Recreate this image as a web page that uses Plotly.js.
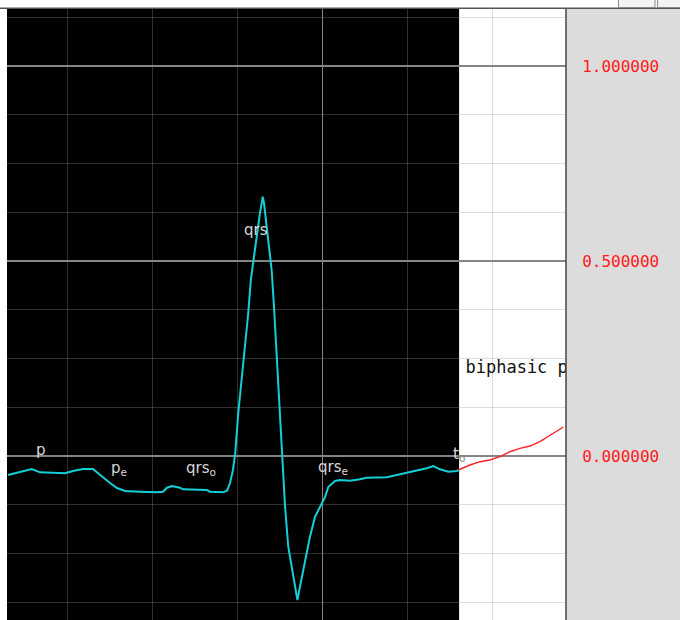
<!DOCTYPE html>
<html><head><meta charset="utf-8">
<script src="https://cdn.plot.ly/plotly-3.0.1.min.js"></script>
<style>html,body{margin:0;padding:0;background:#fff;}#chart{width:680px;height:620px;}</style>
</head><body><div id="chart"></div>
<script>
// ECG beat (seconds, mV)
const ecgTime = [0.4522,0.4555,0.4597,0.4633,0.4672,0.4743,0.4790,0.4827,0.4874,0.4921,0.4954,0.5001,0.5034,0.5072,0.5142,0.5222,0.5250,0.5269,0.5293,0.5330,0.5344,0.5410,0.5457,0.5471,0.5532,0.5551,0.5565,0.5579,0.5589,0.5604,0.5620,0.5636,0.5651,0.5663,0.5675,0.5683,0.5697,0.5706,0.5714,0.5719,0.5725,0.5730,0.5739,0.5753,0.5761,0.5772,0.5785,0.5797,0.5811,0.5824,0.5839,0.5863,0.5882,0.5894,0.5918,0.5941,0.5965,0.5996,0.6012,0.6027,0.6043,0.6059,0.6082,0.6129,0.6176,0.6208,0.6302,0.6364,0.6427,0.6490,0.6521,0.6552,0.6591,0.6631,0.6642];
const ecgValue = [-0.0487,-0.0444,-0.0397,-0.0333,-0.0418,-0.0444,-0.0444,-0.0385,-0.0333,-0.0333,-0.0487,-0.0692,-0.0821,-0.0897,-0.0915,-0.0931,-0.0915,-0.0813,-0.0769,-0.0813,-0.0854,-0.0854,-0.0872,-0.0915,-0.0931,-0.0890,-0.0700,-0.0359,0.0026,0.1103,0.1949,0.2803,0.3667,0.4513,0.5026,0.5367,0.5923,0.6231,0.6479,0.6649,0.6487,0.6231,0.5846,0.5205,0.4769,0.3828,0.2546,0.1264,-0.0018,-0.1300,-0.2326,-0.3095,-0.3692,-0.3351,-0.2667,-0.2069,-0.1556,-0.1213,-0.1051,-0.0795,-0.0718,-0.0641,-0.0615,-0.0633,-0.0597,-0.0556,-0.0546,-0.0469,-0.0377,-0.0315,-0.0256,-0.0341,-0.0403,-0.0385,-0.0359];
// continuation (red)
const nextTime = [0.6638,0.6693,0.6740,0.6787,0.6834,0.6881,0.6928,0.6975,0.7022,0.7069,0.7132];
const nextValue = [-0.0359,-0.0231,-0.0146,-0.0103,-0.0018,0.0110,0.0197,0.0256,0.0367,0.0538,0.0744];
// fiducial labels
const labelText = ['p','p<sub>e</sub>','qrs<sub>o</sub>','qrs','qrs<sub>e</sub>','t<sub><span style="color:#8a8a8a">o</span></sub>'];
const labelTime = [0.4646,0.4998,0.5350,0.5622,0.5970,0.6606];
const labelValue = [0.016,-0.033,-0.033,0.580,-0.029,0.004];
const noteText = ['biphasic p'];
const noteTime = [0.6672];
const noteValue = [0.2231];
const yTicks = [0, 0.5, 1.0];

const xRange = [0.4517, 0.71445];
const yRange = [-0.4205, 1.1462];
const blackEnd = ecgTime[ecgTime.length - 1];

const traces = [
  {x: ecgTime, y: ecgValue, type: 'scatter', mode: 'lines',
   line: {color: '#14d0d6', width: 2}, hoverinfo: 'skip'},
  {x: nextTime, y: nextValue, type: 'scatter', mode: 'lines',
   line: {color: '#ff2222', width: 1.4}, hoverinfo: 'skip'},
  {x: noteTime, y: noteValue, type: 'scatter', mode: 'text', text: noteText,
   textposition: 'middle right', cliponaxis: true,
   textfont: {family: 'DejaVu Sans Mono', size: 17, color: '#111'}, hoverinfo: 'skip'}
];

const annotations = labelText.map((t, i) => ({
  x: labelTime[i], y: labelValue[i], xref: 'x', yref: 'y', text: t,
  showarrow: false, xanchor: 'left', yanchor: 'middle',
  font: {family: 'DejaVu Sans', size: 15, color: '#d8d8d8'}
}));

const pxToPaperX = px => (px - 7) / 559;
const pxToPaperY = py => 1 - (py - 9) / 611;

const shapes = [
  {type: 'rect', xref: 'x', yref: 'paper', x0: xRange[0] - 0.01, x1: blackEnd, y0: 0, y1: 1,
   fillcolor: '#000', line: {width: 0}, layer: 'below'},
  {type: 'rect', xref: 'paper', yref: 'paper', x0: 1, x1: pxToPaperX(682), y0: pxToPaperY(622), y1: 1,
   fillcolor: '#dcdcdc', line: {width: 0}, layer: 'below'},
  {type: 'line', xref: 'paper', yref: 'paper', x0: 1, x1: 1, y0: pxToPaperY(622), y1: pxToPaperY(8),
   line: {color: '#444', width: 1.5}},
  {type: 'line', xref: 'paper', yref: 'paper', x0: pxToPaperX(0), x1: pxToPaperX(680), y0: pxToPaperY(8.3), y1: pxToPaperY(8.3),
   line: {color: '#555', width: 1.5}},
  {type: 'rect', xref: 'paper', yref: 'paper', x0: pxToPaperX(618.5), x1: pxToPaperX(655), y0: pxToPaperY(7.5), y1: pxToPaperY(-2),
   fillcolor: '#f4f4f4', line: {color: '#888', width: 1}},
  {type: 'rect', xref: 'paper', yref: 'paper', x0: pxToPaperX(657.5), x1: pxToPaperX(682), y0: pxToPaperY(7.5), y1: pxToPaperY(-2),
   fillcolor: '#f4f4f4', line: {color: '#888', width: 1}}
];

const layout = {
  width: 680, height: 620,
  margin: {l: 7, r: 114, t: 9, b: 0, pad: 0},
  paper_bgcolor: '#ffffff', plot_bgcolor: '#ffffff',
  showlegend: false, hovermode: false,
  xaxis: {range: xRange, showticklabels: false, ticks: '', zeroline: false,
          showgrid: true, gridcolor: '#858585', gridwidth: 1.5, tick0: 0, dtick: 0.2,
          minor: {showgrid: true, tick0: 0, dtick: 0.04, gridcolor: 'rgba(150,150,150,0.32)', gridwidth: 1.2},
          showline: false, fixedrange: true},
  yaxis: {range: yRange, side: 'right', tickvals: yTicks, tickformat: '.6f',
          ticks: 'outside', ticklen: 12, tickcolor: 'rgba(0,0,0,0)',
          tickfont: {family: 'DejaVu Sans Mono', size: 16, color: '#ff1a1a'},
          showgrid: true, gridcolor: '#858585', gridwidth: 1.5,
          zeroline: true, zerolinecolor: '#858585', zerolinewidth: 1.5,
          minor: {showgrid: true, tick0: 0, dtick: 0.125, gridcolor: 'rgba(150,150,150,0.32)', gridwidth: 1.2},
          showline: false, fixedrange: true},
  shapes: shapes,
  annotations: annotations
};

Plotly.newPlot('chart', traces, layout, {staticPlot: true, displayModeBar: false});
</script>
</body></html>
